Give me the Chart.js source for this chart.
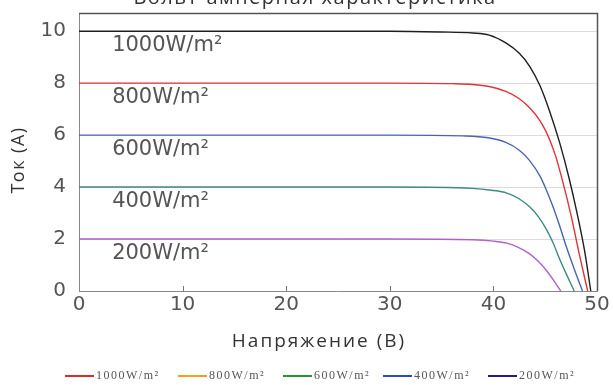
<!DOCTYPE html>
<html>
<head>
<meta charset="utf-8">
<script src="https://cdn.jsdelivr.net/npm/chart.js@4"></script>
<style>
  html, body { margin: 0; padding: 0; background: #fff; }
  #wrap { width: 613px; height: 385px; position: relative; }
</style>
</head>
<body>
<div id="wrap"><canvas id="ivChart"></canvas></div>
<script>
// irradiance levels: curve labels inside the plot and legend entries
const irradiance = ["1000W/m²", "800W/m²", "600W/m²", "400W/m²", "200W/m²"];
const legendNames = ["1000W/m²", "800W/m²", "600W/m²", "400W/m²", "200W/m²"];

// I-V curves (voltage in V, current in A)
const voltage1000 = [0, 10, 20, 30, 34.8, 38.0, 39.6, 41.2, 42.5, 43.5, 44.5, 45.4, 46.4, 47.3, 48.1, 48.8, 49.4];
const current1000 = [10, 10, 10, 10, 9.97, 9.93, 9.85, 9.55, 9.15, 8.65, 7.9, 6.95, 5.7, 4.35, 2.95, 1.55, 0];

const voltage800 = [0, 10, 20, 30, 36, 38.0, 39.6, 41.2, 42.5, 43.5, 44.5, 45.0, 45.4, 46.0, 46.7, 47.5, 48.3, 49.1];
const current800 = [8, 8, 8, 8, 7.98, 7.95, 7.87, 7.68, 7.4, 7.05, 6.55, 6.2, 5.85, 5.2, 4.2, 2.9, 1.4, 0];

const voltage600 = [0, 10, 20, 30, 37, 39.5, 41.2, 42.5, 43.5, 44.5, 45.1, 45.7, 46.4, 47.0, 47.8, 48.6];
const current600 = [6, 6, 6, 6, 5.97, 5.9, 5.72, 5.42, 5.02, 4.42, 3.9, 3.3, 2.5, 1.75, 0.85, 0];

const voltage400 = [0, 10, 20, 30, 38, 39.8, 41.3, 42.4, 43.5, 44.3, 45.1, 45.8, 46.4, 47.1, 47.8];
const current400 = [4, 4, 4, 4, 3.95, 3.88, 3.77, 3.57, 3.24, 2.88, 2.38, 1.82, 1.22, 0.6, 0];

const voltage200 = [0, 10, 20, 30, 38, 40.0, 41.3, 42.4, 43.5, 44.3, 45.1, 45.8, 46.5];
const current200 = [2, 2, 2, 2, 1.97, 1.92, 1.84, 1.68, 1.43, 1.15, 0.8, 0.42, 0];

const xTicks = [0, 10, 20, 30, 40, 50];
const yTicks = [0, 2, 4, 6, 8, 10];

const curveColors = ["#1e1e1e", "#e0333a", "#4a64b4", "#3d8a80", "#b062c8"];
const legendColors = ["#e02a2a", "#ff9a1a", "#1f9a2a", "#2a48c8", "#2a1a8a"];

const toPoints = (xs, ys) => xs.map((x, k) => ({ x: x, y: ys[k] }));

const series = [
  toPoints(voltage1000, current1000),
  toPoints(voltage800, current800),
  toPoints(voltage600, current600),
  toPoints(voltage400, current400),
  toPoints(voltage200, current200),
];
const shortCircuit = [10, 8, 6, 4, 2];

const datasets = series.map((pts, k) => ({
  label: legendNames[k],
  data: pts,
  borderColor: curveColors[k],
  backgroundColor: curveColors[k],
  borderWidth: 1.4,
  pointRadius: 0,
  cubicInterpolationMode: "monotone",
  fill: false,
}));

// title (cut by the top edge), axis titles, curve labels, inner ticks, border, legend
const extras = {
  id: "extras",
  afterDatasetsDraw(chart) {
    const { ctx, chartArea, scales } = chart;
    const xs = scales.x, ys = scales.y;
    ctx.save();

    ctx.fillStyle = "#555";
    ctx.font = "21px 'DejaVu Sans', sans-serif";
    ctx.textAlign = "left";
    ctx.textBaseline = "middle";
    irradiance.forEach((txt, k) => {
      ctx.fillText(txt, xs.getPixelForValue(3.2), ys.getPixelForValue(shortCircuit[k] - 0.55));
    });

    // small ticks pointing into the plot
    ctx.strokeStyle = "#777";
    ctx.lineWidth = 1;
    xTicks.slice(1, -1).forEach((v) => {
      const px = Math.round(xs.getPixelForValue(v)) + 0.5;
      ctx.beginPath();
      ctx.moveTo(px, chartArea.bottom);
      ctx.lineTo(px, chartArea.bottom - 5);
      ctx.stroke();
    });

    // top and right border
    ctx.strokeStyle = "#555";
    ctx.lineWidth = 1.5;
    ctx.beginPath();
    ctx.moveTo(chartArea.left, chartArea.top + 0.5);
    ctx.lineTo(chartArea.right + 0.5, chartArea.top + 0.5);
    ctx.lineTo(chartArea.right + 0.5, chartArea.bottom);
    ctx.stroke();

    // chart title, only its lower part is inside the picture
    ctx.fillStyle = "#333";
    ctx.font = "20px 'Open Sans', sans-serif";
    ctx.letterSpacing = "1.5px";
    ctx.textAlign = "center";
    ctx.textBaseline = "alphabetic";
    ctx.fillText("Вольт-амперная характеристика", 315, 4);

    // x axis title
    ctx.font = "19px 'Open Sans', sans-serif";
    ctx.letterSpacing = "2px";
    ctx.fillText("Напряжение (В)", 319, 347);

    // y axis title
    ctx.save();
    ctx.translate(24, 160);
    ctx.rotate(-Math.PI / 2);
    ctx.font = "18px 'Open Sans', sans-serif";
    ctx.letterSpacing = "1.5px";
    ctx.fillText("Ток (A)", 0, 0);
    ctx.restore();

    // legend row at the bottom
    const legendX = [65, 178, 283, 383, 488];
    const legendY = 376;
    ctx.font = "12px 'Liberation Serif', serif";
    ctx.letterSpacing = "1.5px";
    ctx.textAlign = "left";
    ctx.textBaseline = "middle";
    legendNames.forEach((name, k) => {
      ctx.strokeStyle = legendColors[k];
      ctx.lineWidth = 2;
      ctx.beginPath();
      ctx.moveTo(legendX[k], legendY);
      ctx.lineTo(legendX[k] + 29, legendY);
      ctx.stroke();
      ctx.fillStyle = "#555";
      ctx.fillText(name, legendX[k] + 31, legendY);
    });

    ctx.restore();
  },
};

new Chart(document.getElementById("ivChart"), {
  type: "line",
  data: { datasets: datasets },
  options: {
    responsive: true,
    maintainAspectRatio: false,
    animation: false,
    layout: { padding: { top: 13, right: 16, left: 0, bottom: 0 } },
    scales: {
      x: {
        type: "linear",
        min: 0,
        max: 50,
        afterBuildTicks: (axis) => { axis.ticks = xTicks.map((v) => ({ value: v })); },
        grid: { display: false, drawTicks: false },
        border: { display: true, color: "#888", width: 1 },
        ticks: {
          color: "#555",
          font: { family: "'DejaVu Sans', sans-serif", size: 20 },
          padding: 2,
        },
        afterFit: (scale) => { scale.height = 94; },
      },
      y: {
        min: 0,
        max: 10.7,
        afterBuildTicks: (axis) => { axis.ticks = yTicks.map((v) => ({ value: v })); },
        grid: { color: "#dcdcdc", drawTicks: false, lineWidth: 1 },
        border: { display: true, color: "#888", width: 1 },
        ticks: {
          color: "#555",
          font: { family: "'DejaVu Sans', sans-serif", size: 20 },
          padding: 13,
        },
        afterFit: (scale) => {
          scale.width = 79;
          scale.paddingTop = 0;
          scale.paddingBottom = 0;
        },
      },
    },
    plugins: {
      legend: { display: false },
      tooltip: { enabled: false },
    },
  },
  plugins: [extras],
});
</script>
</body>
</html>
